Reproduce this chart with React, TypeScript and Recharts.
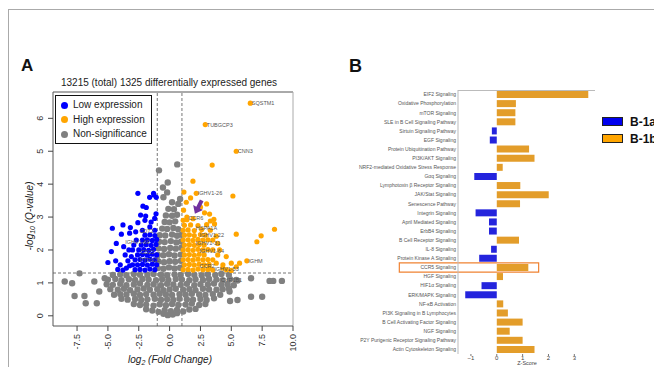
import React from 'react';
import {
  ScatterChart, Scatter, XAxis, YAxis, ReferenceLine, Legend,
  BarChart, Bar, Cell, ReferenceArea,
} from 'recharts';

// ---------- Panel A data (log2 fold change, -log10 q-value) ----------
const grayPoints: [number, number][] = [
  [-0.5,0.06],[-0.15,0.02],[0.25,0.04],[0.6,0.08],
  [-1.9,0.2],[-1.4,0.16],[-0.9,0.12],[-0.4,0.17],[0.1,0.14],[0.6,0.18],[1.1,0.13],[1.6,0.19],[2.1,0.21],
  [-2.9,0.36],[-2.4,0.33],[-1.9,0.34],[-1.3,0.31],[-0.8,0.35],[-0.3,0.32],[0.2,0.36],[0.7,0.33],[1.3,0.34],[1.8,0.37],[2.4,0.33],[2.9,0.36],
  [-3.9,0.52],[-3.4,0.49],[-2.8,0.51],[-2.3,0.48],[-1.8,0.5],[-1.2,0.52],[-0.7,0.49],[-0.2,0.5],[0.3,0.48],[0.8,0.52],[1.4,0.5],[1.9,0.49],[2.5,0.51],[3.0,0.48],[3.6,0.53],
  [-4.5,0.64],[-4.0,0.66],[-3.5,0.65],[-2.9,0.67],[-2.4,0.63],[-1.9,0.66],[-1.3,0.64],[-0.8,0.67],[-0.3,0.65],[0.2,0.63],[0.8,0.66],[1.3,0.64],[1.8,0.67],[2.4,0.65],[2.9,0.63],[3.5,0.66],[4.1,0.64],
  [-4.8,0.81],[-4.2,0.79],[-3.7,0.82],[-3.2,0.78],[-2.6,0.8],[-2.1,0.83],[-1.6,0.79],[-1.0,0.81],[-0.5,0.78],[0.0,0.8],[0.5,0.82],[1.1,0.79],[1.6,0.81],[2.1,0.78],[2.7,0.82],[3.2,0.8],[3.8,0.79],[4.3,0.81],[4.8,0.83],
  [-5.1,0.96],[-4.6,0.94],[-4.0,0.97],[-3.5,0.93],[-2.9,0.95],[-2.4,0.98],[-1.8,0.94],[-1.3,0.96],[-0.7,0.93],[-0.2,0.97],[0.3,0.95],[0.9,0.94],[1.4,0.97],[2.0,0.93],[2.5,0.96],[3.1,0.95],[3.6,0.98],[4.2,0.94],[4.7,0.96],[5.2,0.93],
  [-5.0,1.1],[-4.4,1.12],[-3.9,1.08],[-3.3,1.11],[-2.8,1.09],[-2.2,1.12],[-1.7,1.1],[-1.1,1.08],[-0.6,1.11],[-0.1,1.09],[0.5,1.12],[1.0,1.1],[1.6,1.08],[2.1,1.11],[2.7,1.09],[3.2,1.12],[3.8,1.1],[4.3,1.08],[4.9,1.11],[5.4,1.09],
  [-4.6,1.24],[-4.0,1.26],[-3.5,1.23],[-2.9,1.27],[-2.4,1.25],[-1.8,1.24],[-1.3,1.27],[-0.7,1.25],[-0.2,1.23],[0.4,1.26],[0.9,1.24],[1.5,1.27],[2.0,1.25],[2.6,1.23],[3.1,1.26],[3.7,1.24],[4.2,1.27],[4.8,1.25],
  [-0.95,1.45],[-0.5,1.43],[-0.05,1.47],[0.4,1.44],[0.85,1.46],
  [-0.9,1.65],[-0.45,1.63],[0.0,1.66],[0.45,1.64],[0.9,1.67],
  [-0.95,1.85],[-0.5,1.84],[-0.05,1.87],[0.4,1.83],[0.9,1.86],
  [-0.9,2.05],[-0.45,2.03],[0.05,2.06],[0.5,2.04],[0.95,2.07],
  [-0.85,2.25],[-0.4,2.24],[0.1,2.27],[0.55,2.23],[0.95,2.26],
  [-0.8,2.45],[-0.35,2.44],[0.2,2.47],[0.6,2.43],[0.95,2.46],
  [-0.6,2.65],[-0.2,2.64],[0.3,2.67],[0.7,2.63],
  [-0.4,2.85],[0.0,2.84],[0.45,2.87],
  [-0.3,3.05],[0.2,3.04],[0.6,3.07],
  [-0.1,3.25],[0.35,3.24],
  [0.2,3.45],[0.7,3.4],[0.85,3.55],[-0.2,3.75],[-0.5,3.6],[-0.15,4.05],[-0.54,3.9],[-0.86,4.42],[0.62,4.6],
  [-8.5,1.04],[-7.9,0.99],[-7.3,1.29],[-7.7,0.6],[-6.8,0.38],[-6.9,0.6],[-6.1,1.04],[-5.9,0.38],[-5.7,0.74],[-5.26,1.14],
  [6.6,1.14],[8.4,1.06],[9.1,1.06],[8.1,1.06],[5.5,1.07],[6.6,0.58],[7.5,0.58],[4.86,0.74],[5.5,0.48],[4.9,0.45],
];

const bluePoints: [number, number][] = [
  [-2.8,1.4],[-2.4,1.41],[-2.0,1.39],[-1.6,1.42],[-1.2,1.4],
  [-2.6,1.55],[-2.2,1.56],[-1.8,1.54],[-1.4,1.57],[-1.05,1.55],
  [-2.8,1.7],[-2.4,1.71],[-2.0,1.69],[-1.6,1.72],[-1.2,1.7],
  [-2.6,1.85],[-2.2,1.86],[-1.8,1.84],[-1.4,1.87],[-1.05,1.85],
  [-2.5,2.0],[-2.1,2.01],[-1.7,1.99],[-1.3,2.02],
  [-2.3,2.15],[-1.9,2.16],[-1.5,2.14],[-1.1,2.17],
  [-2.2,2.3],[-1.8,2.31],[-1.4,2.29],[-1.05,2.32],
  [-2.0,2.45],[-1.6,2.46],[-1.2,2.44],
  [-2.2,2.6],[-1.6,2.7],[-1.2,2.6],[-1.5,2.85],[-2.0,2.9],[-1.1,3.1],[-2.7,2.3],[-3.0,2.0],[-3.1,1.8],[-3.0,1.55],[-2.9,2.15],
  [-2.57,3.72],[-1.62,3.6],[-1.27,3.67],[-2.16,3.33],[-1.89,3.29],[-2.35,3.06],[-1.94,3.03],[-2.57,2.83],[-1.21,2.96],
  [-4.64,2.66],[-3.78,2.76],[-3.18,2.68],[-3.91,2.48],[-3.24,2.51],[-2.75,2.55],[-4.32,2.2],[-3.72,2.1],[-4.72,1.95],
  [-4.37,1.67],[-5.0,1.62],[-3.38,1.67],[-4.2,1.41],[-3.78,1.39],[-3.24,1.52],[-1.3,3.72],[-1.08,3.6],
  [-3.5,1.45],[-3.3,2.0],[-3.6,1.85],[-4.0,1.55],
];

const orangePoints: [number, number][] = [
  [1.1,1.4],[1.5,1.41],[1.9,1.39],[2.3,1.42],[2.7,1.4],[3.1,1.41],[3.5,1.39],
  [1.2,1.55],[1.6,1.56],[2.0,1.54],[2.4,1.57],[2.8,1.55],[3.2,1.56],
  [1.1,1.7],[1.5,1.71],[1.9,1.69],[2.3,1.72],[2.7,1.7],[3.1,1.71],
  [1.2,1.85],[1.6,1.86],[2.0,1.84],[2.4,1.87],[2.8,1.85],
  [1.1,2.0],[1.5,2.01],[1.9,1.99],[2.3,2.02],[2.7,2.0],[3.1,2.01],
  [1.2,2.15],[1.6,2.16],[2.0,2.14],[2.4,2.17],[2.8,2.15],
  [1.1,2.3],[1.5,2.31],[1.9,2.29],[2.3,2.32],[2.7,2.3],[3.1,2.31],
  [1.2,2.45],[1.6,2.46],[2.0,2.44],[2.5,2.47],[2.9,2.45],
  [1.1,2.6],[1.5,2.61],[2.0,2.59],[2.6,2.62],
  [1.2,2.75],[1.7,2.76],[2.3,2.74],[3.0,2.77],
  [1.1,2.9],[1.4,2.92],[3.3,2.88],
  [6.54,6.46],[2.89,5.81],[5.4,5.0],[3.45,4.58],[1.89,4.09],[1.16,3.76],[2.16,3.72],[5.13,3.64],[1.35,3.45],[1.7,3.58],
  [1.13,3.21],[3.24,3.09],[3.59,2.93],[3.64,2.79],[2.83,3.13],[5.4,2.48],[7.42,2.43],[8.5,2.63],[7.07,2.25],[6.26,1.67],
  [3.78,2.42],[4.05,2.0],[4.59,1.8],[5.0,1.6],[5.4,1.49],[4.32,1.55],[5.67,1.6],[3.78,1.6],[3.24,1.45],[2.5,3.3],
  [3.0,3.4],[3.9,2.2],[3.5,2.0],[4.3,1.45],[3.3,2.6],[1.4,3.0],[1.9,2.95],[3.5,1.7],[3.9,1.85],[4.6,1.4],[5.0,1.38],[3.5,2.3],
];

const geneLabels = [
  { gene: 'SQSTM1', x: 6.54, y: 6.46 },
  { gene: 'TUBGCP3', x: 2.89, y: 5.81 },
  { gene: 'CNN3', x: 5.4, y: 5.0 },
  { gene: 'IGHV1-26', x: 2.16, y: 3.72 },
  { gene: 'CCR6', x: 1.4, y: 2.96 },
  { gene: 'HSPA1A', x: 2.0, y: 2.66 },
  { gene: 'IGHV1-22', x: 2.3, y: 2.45 },
  { gene: 'IGHV1-31', x: 2.0, y: 2.2 },
  { gene: 'IGHV1-64', x: 2.3, y: 1.98 },
  { gene: 'IGHM', x: 6.26, y: 1.67 },
  { gene: 'CCR2', x: 2.3, y: 1.52 },
  { gene: 'IGHV1-53', x: 3.5, y: 1.42 },
  { gene: 'CYP1B1', x: 4.05, y: 1.09 },
  { gene: 'CD72', x: -2.57, y: 2.58 },
  { gene: 'IGHV1-69', x: -3.72, y: 2.25 },
  { gene: 'CD22', x: -2.48, y: 1.93 },
  { gene: 'PTPN22', x: -2.57, y: 1.68 },
];

const arrowTip = [{ x: 2.05, y: 3.1 }];

const xTicksA = [-7.5, -5, -2.5, 0, 2.5, 5, 7.5, 10];
const yTicksA = [0, 1, 2, 3, 4, 5, 6];
const legendA = [
  { label: 'Low expression', color: '#0000FF' },
  { label: 'High expression', color: '#FFA500' },
  { label: 'Non-significance', color: '#808080' },
];

// ---------- Panel B data ----------
const pathways = [
  'EIF2 Signaling', 'Oxidative Phosphorylation', 'mTOR Signaling', 'SLE in B Cell Signaling Pathway',
  'Sirtuin Signaling Pathway', 'EGF Signaling', 'Protein Ubiquitination Pathway', 'PI3K/AKT Signaling',
  'NRF2-mediated Oxidative Stress Response', 'Gαq Signaling', 'Lymphotoxin β Receptor Signaling',
  'JAK/Stat Signaling', 'Senescence Pathway', 'Integrin Signaling', 'April Mediated Signaling',
  'ErbB4 Signaling', 'B Cell Receptor Signaling', 'IL-8 Signaling', 'Protein Kinase A Signaling',
  'CCR5 Signaling', 'HGF Signaling', 'HIF1α Signaling', 'ERK/MAPK Signaling', 'NF-κB Activation',
  'PI3K Signaling in B Lymphocytes', 'B Cell Activating Factor Signaling', 'NGF Signaling',
  'P2Y Purigenic Receptor Signaling Pathway', 'Actin Cytoskeleton Signaling',
];
const zScores = [
  3.54, 0.74, 0.72, 0.72, -0.19, -0.27, 1.25, 1.46, 0.23, -0.87, 0.91, 2.01, 0.9, -0.82, -0.3,
  -0.3, 0.86, -0.22, -0.68, 1.22, 0.24, -0.59, -1.22, 0.25, 0.43, 1.0, 0.5, 1.0, 1.46,
];
const xTicksB = [-1, 0, 1, 2, 3];
const highlighted = 'CCR5 Signaling';
const legendB = [
  { label: 'B-1a', color: '#0000EE' },
  { label: 'B-1b', color: '#FFA500' },
];

const BAR_BLUE = '#2424DD';
const BAR_ORANGE = '#E39D2A';

const toXY = (arr: [number, number][]) => arr.map(([x, y]) => ({ x, y }));
const grayData = toXY(grayPoints);
const blueData = toXY(bluePoints);
const orangeData = toXY(orangePoints);
const pathwayData = pathways.map((name, i) => ({ name, z: zScores[i] }));

const FONT = '"Liberation Sans", Arial, sans-serif';

const dot = (color: string, r: number) => (p: any) =>
  <circle cx={p.cx} cy={p.cy} r={r} fill={color} />;

const XTickA = (p: any) => {
  const v = p.payload.value;
  return (
    <text x={p.x} y={p.y + 1} transform={`rotate(-90 ${p.x} ${p.y + 1})`} textAnchor="end" dy="0.35em"
      fontSize={9} fill="#333" fontFamily={FONT}>{v.toFixed(1)}</text>
  );
};

const YTickA = (p: any) => (
  <text x={p.x + 1} y={p.y} transform={`rotate(-90 ${p.x + 1} ${p.y})`} textAnchor="middle"
    fontSize={9} fill="#333" fontFamily={FONT}>{p.payload.value}</text>
);

const YTickB = (p: any) => (
  <text x={p.x} y={p.y} dy="0.35em" textAnchor="end" fontSize={5} fill="#555" fontFamily={FONT}>
    {p.payload.value}
  </text>
);

const LegendA = () => (
  <div style={{ border: '1.5px solid #111', background: '#fff', padding: '2px 4px 1px 5px', fontFamily: FONT, fontSize: 10, color: '#222', lineHeight: '14.5px' }}>
    {legendA.map((e) => (
      <div key={e.label} style={{ display: 'flex', alignItems: 'center', whiteSpace: 'nowrap' }}>
        <span style={{ display: 'inline-block', width: 7, height: 7, borderRadius: 4, background: e.color, marginRight: 5 }} />
        {e.label}
      </div>
    ))}
  </div>
);

const LegendB = () => (
  <div style={{ fontFamily: FONT, fontSize: 12, fontWeight: 'bold', color: '#111' }}>
    {legendB.map((e) => (
      <div key={e.label} style={{ display: 'flex', alignItems: 'center', height: 17, whiteSpace: 'nowrap' }}>
        <span style={{ display: 'inline-block', width: 19, height: 7, background: e.color, border: '1px solid #222', marginRight: 7 }} />
        {e.label}
      </div>
    ))}
  </div>
);

const ArrowShape = (p: any) => (
  <polygon
    transform={`translate(${p.cx},${p.cy}) rotate(27)`}
    points="0,0 -5.5,-7 -2,-7 -2,-15 2,-15 2,-7 5.5,-7"
    fill="#7030A0"
  />
);

const LabelShape = (p: any) => (
  <text x={p.cx + 1.5} y={p.cy} dy="0.35em" fontSize={5.5} fill="#555" fontFamily={FONT}>{p.payload.gene}</text>
);

export default function App() {
  return (
    <div style={{ position: 'fixed', left: 0, top: 0, width: 654, height: 367, background: '#fff', overflow: 'hidden', fontFamily: FONT }}>
      <div style={{ position: 'absolute', left: 0, top: 0 }}>
        <ScatterChart width={330} height={367} margin={{ top: 92, right: 37, bottom: 0, left: 0 }}>
          <XAxis type="number" dataKey="x" domain={[-9.45, 10]} ticks={xTicksA} interval={0} height={41}
            allowDataOverflow tick={<XTickA />} tickSize={5} tickLine={{ stroke: '#444' }} axisLine={{ stroke: '#555' }} />
          <YAxis type="number" dataKey="y" domain={[-0.31, 6.8]} ticks={yTicksA} interval={0} width={53}
            allowDataOverflow tick={<YTickA />} tickSize={5} tickMargin={6} tickLine={{ stroke: '#444' }} axisLine={{ stroke: '#555' }} />
          <ReferenceLine y={6.8} stroke="#555" ifOverflow="visible" />
          <ReferenceLine x={10} stroke="#aaa" ifOverflow="visible" />
          <Scatter name="Non-significance" data={grayData} shape={dot('#808080', 3.2)} isAnimationActive={false} />
          <Scatter name="Low expression" data={blueData} shape={dot('#0000FF', 2.6)} isAnimationActive={false} />
          <Scatter name="High expression" data={orangeData} shape={dot('#FFA500', 2.6)} isAnimationActive={false} />
          <ReferenceLine x={-1} stroke="#777" strokeDasharray="3 2" />
          <ReferenceLine x={1} stroke="#777" strokeDasharray="3 2" />
          <ReferenceLine y={1.3} stroke="#777" strokeDasharray="3 2" />
          <Scatter data={geneLabels} shape={LabelShape} isAnimationActive={false} />
          <Scatter data={arrowTip} shape={ArrowShape} isAnimationActive={false} />
          <Legend layout="vertical" align="center" verticalAlign="middle" content={<LegendA />}
            wrapperStyle={{ left: 55, top: 95, width: 'auto', height: 'auto' }} />
        </ScatterChart>
      </div>

      <div style={{ position: 'absolute', left: 340, top: 0 }}>
        <BarChart width={314} height={367} layout="vertical" data={pathwayData}
          margin={{ top: 90, right: 59, bottom: 0, left: 0 }}>
          <XAxis type="number" domain={[-1.5, 3.8]} ticks={xTicksB} interval={0} height={13} allowDataOverflow
            axisLine={false} tickSize={2} tickMargin={0} tickLine={{ stroke: '#777' }}
            tick={{ fontSize: 6, fill: '#444', fontFamily: FONT }}
            tickFormatter={(v: number) => (v < 0 ? '\u2212' + Math.abs(v) : String(v))} />
          <YAxis type="category" dataKey="name" width={118} interval={0} tickSize={0} tickMargin={2}
            tickLine={false} axisLine={{ stroke: '#bbb' }} tick={<YTickB />} />
          <Bar dataKey="z" barSize={7} isAnimationActive={false}>
            {pathwayData.map((d) => (
              <Cell key={d.name} fill={d.z < 0 ? BAR_BLUE : BAR_ORANGE} />
            ))}
          </Bar>
          <ReferenceArea y1={highlighted} y2={highlighted} x1={-3.77} x2={1.62} ifOverflow="visible"
            fill="none" stroke="#F08232" strokeWidth={1.2} />
          <Legend layout="vertical" align="center" verticalAlign="middle" content={<LegendB />}
            wrapperStyle={{ left: 262, top: 113, width: 'auto', height: 'auto' }} />
        </BarChart>
      </div>

      <svg width={654} height={367} style={{ position: 'absolute', left: 0, top: 0, pointerEvents: 'none' }} fontFamily={FONT}>
        <line x1={8} y1={9.5} x2={654} y2={9.5} stroke="#aaa" strokeWidth={1} />
        <line x1={8.5} y1={9.5} x2={8.5} y2={367} stroke="#aaa" strokeWidth={1} />
        <line x1={458} y1={90.5} x2={595} y2={90.5} stroke="#bbb" strokeWidth={1} />
        <text x={21} y={71} fontSize={17} fontWeight="bold" fill="#111">A</text>
        <text x={349} y={72} fontSize={18} fontWeight="bold" fill="#111">B</text>
        <text x={169} y={86} fontSize={10} textAnchor="middle" fill="#222">13215 (total) 1325 differentially expressed genes</text>
        <text x={33} y={216} fontSize={10} fontStyle="italic" textAnchor="middle" fill="#222" transform="rotate(-90 33 216)">
          -log<tspan fontSize={7} dy={2}>10</tspan><tspan dy={-2}> (Q-value)</tspan>
        </text>
        <text x={170} y={363} fontSize={10} fontStyle="italic" textAnchor="middle" fill="#222">
          log<tspan fontSize={7} dy={2}>2</tspan><tspan dy={-2}> (Fold Change)</tspan>
        </text>
        <text x={527} y={365} fontSize={5.5} textAnchor="middle" fill="#444">Z-Score</text>
      </svg>
    </div>
  );
}
